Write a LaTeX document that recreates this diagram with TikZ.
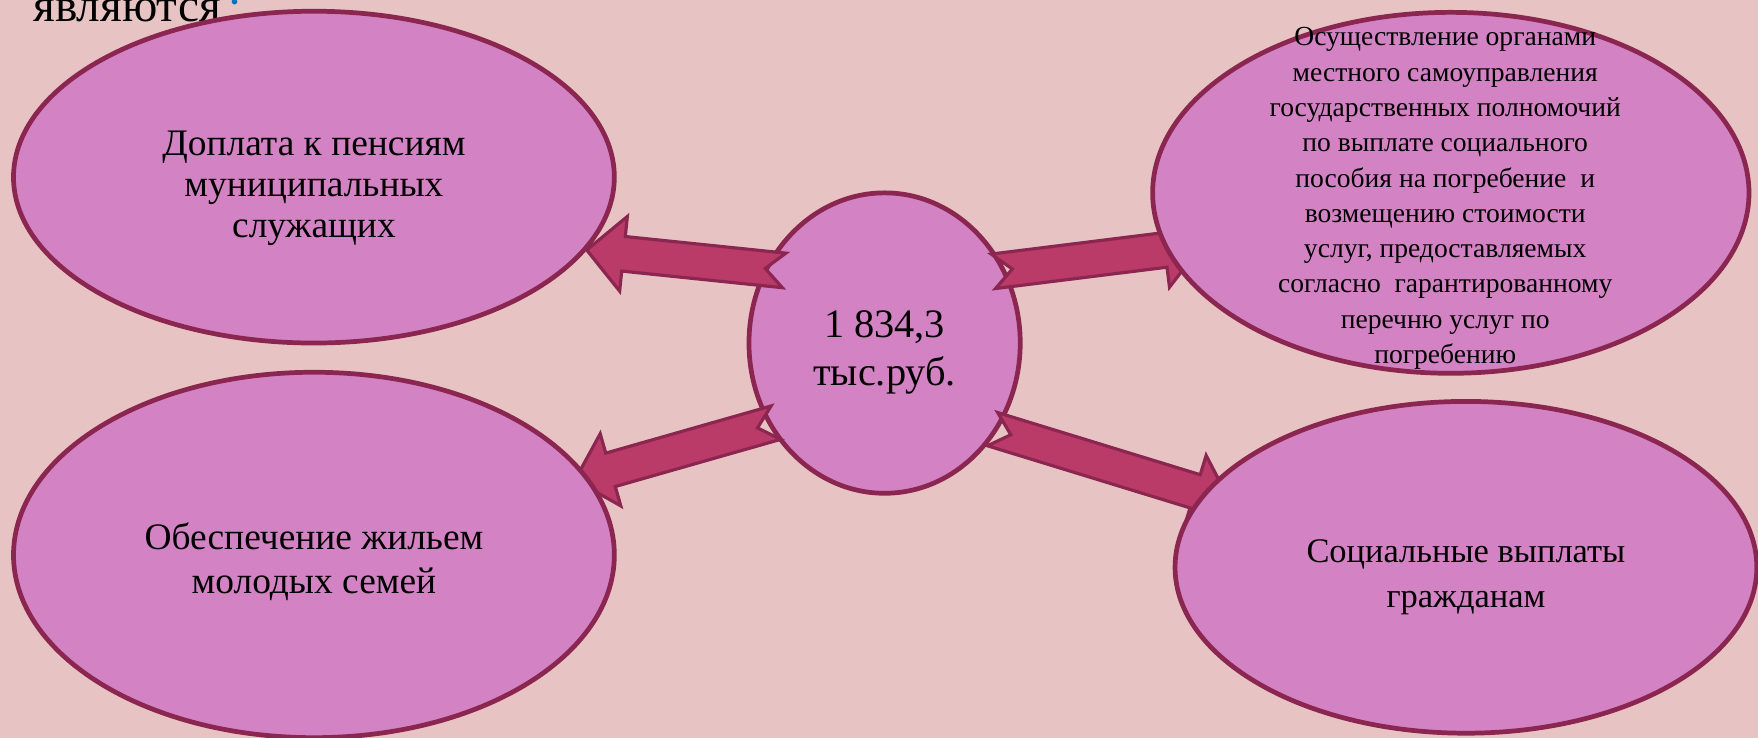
\documentclass[tikz,border=0pt]{standalone}
\usepackage{fontspec}
\setmainfont{Liberation Serif}
\usetikzlibrary{shapes.geometric,calc}

\definecolor{paper}{HTML}{E8C3C4}
\definecolor{bubblefill}{HTML}{D383C3}
\definecolor{rim}{HTML}{8A2650}
\definecolor{arrowfill}{HTML}{BA3A68}
\definecolor{dotblue}{HTML}{0070C0}

\tikzset{
  bubble/.style={ellipse, draw=rim, fill=bubblefill, line width=2.4pt, inner sep=0pt},
  caption/.style={align=center, inner sep=0pt},
  arrowbody/.style={draw=rim, fill=arrowfill, line width=1.6pt, line join=miter},
}

\newcommand{\notcharrow}[2]{%
  \coordinate (hb) at ($(#2)!0.66cm!(#1)$);
  \draw[arrowbody]
    ($(#1)!0.31cm!90:(#2)$) -- ($(hb)!0.31cm!-90:(#1)$) -- ($(hb)!0.67cm!-90:(#1)$) --
    (#2) -- ($(hb)!0.67cm!90:(#1)$) -- ($(hb)!0.31cm!90:(#1)$) --
    ($(#1)!0.31cm!-90:(#2)$) -- ($(#1)!0.34cm!(#2)$) -- cycle;
}

\begin{document}
\begin{tikzpicture}[x=0.02cm, y=0.02cm]
  \useasboundingbox (0,0) rectangle (1568,658);
  \fill[paper] (0,0) rectangle (1568,658);
  \node[anchor=base west, inner sep=0pt, font=\fontsize{24}{28}\selectfont] (lead) at (29.4,638.7)
    {являются\,\textcolor{dotblue}{:}};
  \node[bubble, minimum width=4.84cm, minimum height=5.36cm] (sum) at (789,352) {};
  \node[caption, font=\fontsize{20.5}{24.4}\selectfont] (sumtext) at ($(sum)+(0,-8)$) {1 834,3\\тыс.руб.};
  \coordinate (sum-pens) at (699.4,416.8);
  \coordinate (sum-house) at (692,281);
  \coordinate (sum-burial) at (886,416);
  \coordinate (sum-pay) at (885.3,275.2);
  \coordinate (pens-tip) at (523.3,435);
  \coordinate (house-tip) at (512.8,229.9);
  \coordinate (burial-tip) at (1071.7,439.1);
  \coordinate (pay-tip) at (1097.5,210.1);
  \begin{scope}
    \notcharrow{sum-pens}{pens-tip}
    \notcharrow{sum-house}{house-tip}
    \notcharrow{sum-burial}{burial-tip}
    \notcharrow{sum-pay}{pay-tip}
  \end{scope}
  \node[bubble, minimum width=10.72cm, minimum height=5.92cm] (pens) at (280,500) {};
  \node[caption, font=\fontsize{19}{20.7}\selectfont] (penstext) at ($(pens)+(0,-10)$)
    {Доплата к пенсиям\\муниципальных\\служащих};
  \node[bubble, minimum width=10.72cm, minimum height=6.52cm] (house) at (280,163) {};
  \node[caption, font=\fontsize{19}{22.7}\selectfont] (housetext) at ($(house)+(0,-6)$)
    {Обеспечение жильем\\молодых семей};
  \node[bubble, minimum width=10.64cm, minimum height=6.44cm] (burial) at (1294,486) {};
  \node[caption, font=\fontsize{14}{17.9}\selectfont] (burialtext) at ($(burial)+(-5,-5)$)
    {Осуществление органами\\местного самоуправления\\государственных полномочий\\по выплате социального\\пособия на погребение~ и\\возмещению стоимости\\услуг, предоставляемых\\согласно~ гарантированному\\перечню услуг по\\погребению};
  \node[bubble, minimum width=10.38cm, minimum height=5.92cm] (pay) at (1307.5,152) {};
  \node[caption, font=\fontsize{17.5}{22.7}\selectfont] (paytext) at ($(pay)+(0,-9)$)
    {Социальные выплаты\\гражданам};
\end{tikzpicture}
\end{document}
